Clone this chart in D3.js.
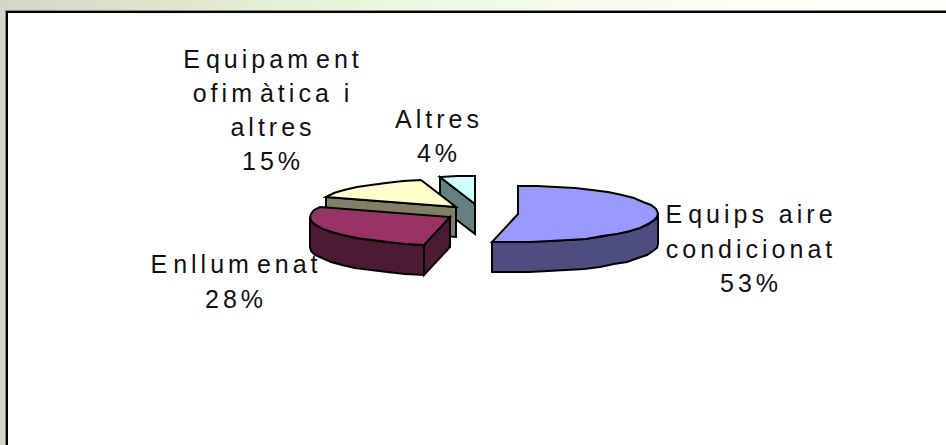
<!DOCTYPE html>
<html><head><meta charset="utf-8">
<script src="https://cdn.jsdelivr.net/npm/d3@7"></script>
<style>html,body{margin:0;padding:0;background:#fff}svg{display:block}</style>
</head><body><svg id="c" width="946" height="445"></svg>
<script>
const categories = ["Equips aire condicionat","Enllumenat","Equipament ofimàtica i altres","Altres"];
const shares = [53,28,15,4];
const topColors = ["#9999FF","#993366","#FFFFCC","#CCFFFF"];
const sideColors = ["#4D4D80","#4D1A33","#808066","#668080"];
const labelLines = [["Equips aire","condicionat","53%"],["Enllumenat","28%"],["Equipament","ofimàtica i","altres","15%"],["Altres","4%"]];

const svg = d3.select("#c");
const defs = svg.append("defs");
const g = defs.append("linearGradient").attr("id","bg");
[[0,"#d5d5c8"],[0.17,"#dfe4ce"],[0.32,"#e6f2d8"],[0.55,"#f3fbec"],[0.75,"#fafef4"],[1,"#fffffa"]].forEach(s=>g.append("stop").attr("offset",s[0]).attr("stop-color",s[1]));
svg.append("rect").attr("width",946).attr("height",445).attr("fill","url(#bg)");
svg.append("rect").attr("x",5.5).attr("y",10.5).attr("width",1000).attr("height",1000).attr("fill","none").attr("stroke","#8a8a80").attr("stroke-width",1);
svg.append("rect").attr("x",7).attr("y",12).attr("width",1000).attr("height",1000).attr("fill","#fff").attr("stroke","#000").attr("stroke-width",2);

const pie = d3.pie().sort(null).value(d=>d);
const arcs = pie(shares);
const rx=d3.scaleLinear().domain([0,1]).range([0,140]), ry=d3.scaleLinear().domain([0,1]).range([0,28]);
const depth=d3.scaleLinear().domain([0,1]).range([0,30]);
const centers=[[518,214],[450,217],[456,207],[475,204]];
const pt=(c,a,d=0)=>[Math.round(c[0]+rx(1)*Math.sin(a)), Math.round(c[1]-ry(1)*Math.cos(a)+d)];
const D=depth(1);
const line=d3.line();
const arcPts=(c,a0,a1,d=0)=>{const n=Math.max(2,Math.round(Math.abs(a1-a0)/0.14));return d3.range(n+1).map(i=>pt(c,a0+(a1-a0)*i/n,d));};
const layer=svg.append("g").attr("stroke","#000").attr("stroke-width",2).attr("stroke-linejoin","miter");
const poly=(p,f)=>layer.append("path").attr("d",line(p)+"Z").attr("fill",f);
const PI=Math.PI;
[3,2,1,0].forEach(i=>{
  const s=arcs[i],c=centers[i],a0=s.startAngle,a1=s.endAngle;
  const [x0,y0]=pt(c,a0);
  if(i>=1) poly([[x0,y0],c,[c[0],c[1]+D],[x0,y0+D]],sideColors[i]);
  if(i===1) poly(arcPts(c,a0,3*PI/2).concat(arcPts(c,3*PI/2,a0,D)),sideColors[i]);
  if(i===0) poly(arcPts(c,PI/2,a1).concat(arcPts(c,a1,PI/2,D)),sideColors[i]);
  poly([c].concat(arcPts(c,a0,a1)),topColors[i]);
});

const labelPos=[[751,223],[236,273],[273,68],[439,128]];
const lineH=[34.5,34.5,34,34];
const gapAfter={E:2,m:4};
const lab=svg.append("g").attr("font-family","'Liberation Sans',Arial,sans-serif").attr("font-size",25).attr("fill","#111").attr("text-anchor","middle").attr("letter-spacing",4);
labelLines.forEach((ls,i)=>{
  ls.forEach((t,j)=>{
    const dx=Array.from(t).map((ch,k)=>k>0?(gapAfter[t[k-1]]||0):0).join(" ");
    lab.append("text").attr("x",labelPos[i][0]).attr("y",labelPos[i][1]+j*lineH[i]).attr("dx",dx).text(t);
  });
});
</script></body></html>
